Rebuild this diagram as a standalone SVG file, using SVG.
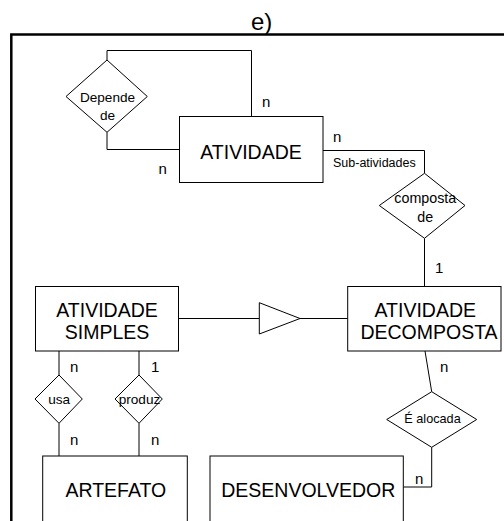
<svg xmlns="http://www.w3.org/2000/svg" width="504" height="521" viewBox="0 0 504 521">
<style>
text{font-family:"Liberation Sans",Arial,sans-serif;fill:#000}
.ent{fill:#fff;stroke:#000;stroke-width:1}
.rel{fill:#fff;stroke:#000;stroke-width:1}
.ln{fill:none;stroke:#000;stroke-width:1}
.et{font-size:19.5px;text-anchor:middle}
.rt{font-size:13.6px;text-anchor:middle}
.card{font-size:15px}
</style>
<rect width="504" height="521" fill="#fff"/>
<text x="261.7" y="29.5" font-size="24" text-anchor="middle">e)</text>
<path d="M11.3,521 V34.5 H504" fill="none" stroke="#000" stroke-width="2.5"/>
<g id="connectors">
<path class="ln" d="M107,60 V50.5 H251.5 V116.5"/>
<path class="ln" d="M107,132.3 V149.5 H179.5"/>
<path class="ln" d="M323,150.5 H424.5 V173.3"/>
<path class="ln" d="M424.5,238.3 V286.5"/>
<path class="ln" d="M178.5,318.5 H259.3"/>
<polygon class="rel" points="259.3,302.7 259.3,334 300,318.5"/>
<path class="ln" d="M300,318.5 H347.7"/>
<path class="ln" d="M59,351 V375 M59,423.3 V456"/>
<path class="ln" d="M139,351 V375 M139,423.3 V456"/>
<path class="ln" d="M425,351 L431.7,391.7 M431.7,447.3 V487 H403.3"/>
<text class="card" x="262" y="107">n</text>
<text class="card" x="333" y="142">n</text>
<text class="card" x="158.5" y="174">n</text>
<text x="333" y="166.7" font-size="12.5">Sub-atividades</text>
<text class="card" x="435" y="273">1</text>
<text class="card" x="70" y="372">n</text>
<text class="card" x="151" y="372">1</text>
<text class="card" x="70" y="444.5">n</text>
<text class="card" x="151" y="444.5">n</text>
<text class="card" x="440" y="372.3">n</text>
<text class="card" x="415" y="484.3">n</text>
</g>
<g id="atividade">
<rect class="ent" x="179.5" y="116.5" width="143.5" height="66"/>
<text class="et" x="251" y="159">ATIVIDADE</text>
</g>
<g id="depende">
<polygon class="rel" points="107,60 147.3,96.5 107,132.3 66,96.5"/>
<text class="rt" x="107.5" y="101.7">Depende</text>
<text class="rt" x="107.5" y="120">de</text>
</g>
<g id="composta">
<polygon class="rel" points="424.5,173.3 465,205.5 424.5,238.3 379.3,205.5"/>
<text class="rt" x="425.3" y="203.3" style="font-size:14.3px">composta</text>
<text class="rt" x="425.3" y="221.7" style="font-size:14.3px">de</text>
</g>
<g id="atividade-simples">
<rect class="ent" x="35.5" y="286.5" width="143" height="64.5"/>
<text class="et" x="107" y="316.7">ATIVIDADE</text>
<text class="et" x="107" y="339.3">SIMPLES</text>
</g>
<g id="atividade-decomposta">
<rect class="ent" x="347.7" y="286.5" width="153.3" height="64.5"/>
<text class="et" x="425.3" y="316.7">ATIVIDADE</text>
<text class="et" x="429" y="339.3">DECOMPOSTA</text>
</g>
<g id="usa">
<polygon class="rel" points="59,375 82.3,399 59,423.3 35,399"/>
<text class="rt" x="59.2" y="404">usa</text>
</g>
<g id="produz">
<polygon class="rel" points="139,375 162.3,399 139,423.3 115,399"/>
<text class="rt" x="139.5" y="404">produz</text>
</g>
<g id="e-alocada">
<polygon class="rel" points="431.7,391.7 476.7,419.5 431.7,447.3 386.7,419.5"/>
<text x="432.5" y="423.3" font-size="12.7" text-anchor="middle">É alocada</text>
</g>
<g id="artefato">
<rect class="ent" x="42.7" y="456" width="144.6" height="80"/>
<text class="et" x="115.8" y="496.7">ARTEFATO</text>
</g>
<g id="desenvolvedor">
<rect class="ent" x="210" y="456" width="193.3" height="80"/>
<text class="et" x="308.3" y="496.7">DESENVOLVEDOR</text>
</g>
</svg>
